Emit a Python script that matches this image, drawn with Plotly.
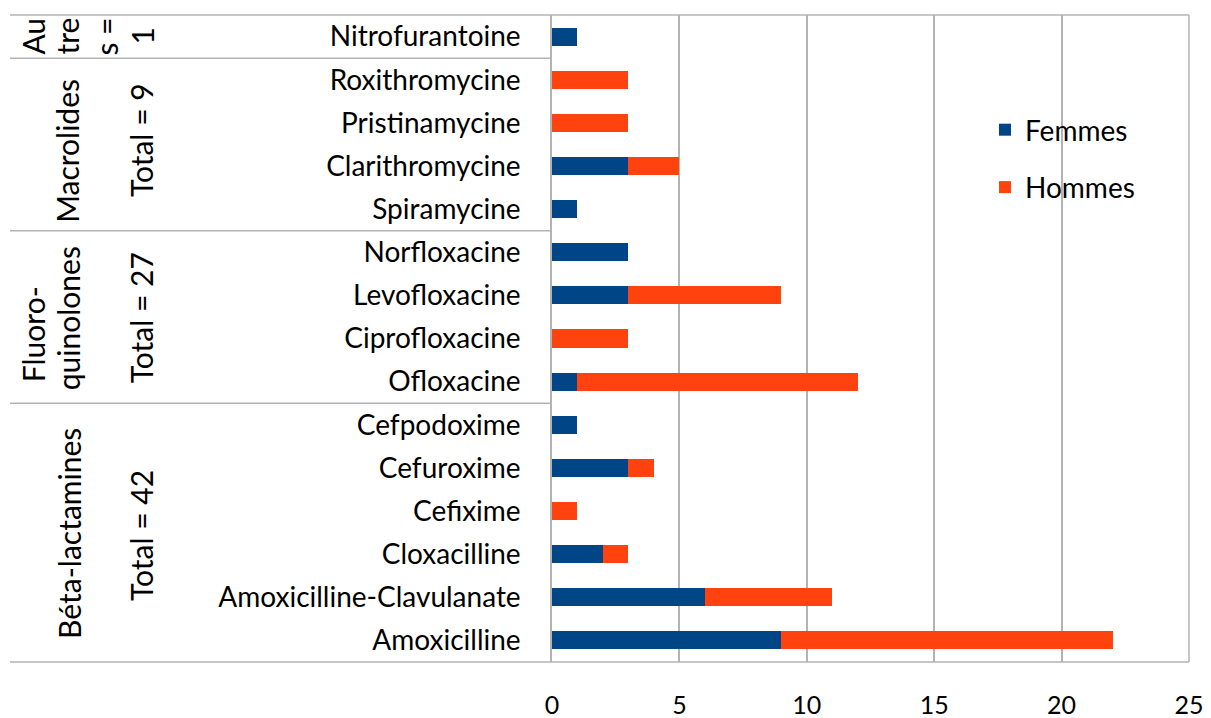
import plotly.graph_objects as go

# Data (bottom to top)
drugs = ["Amoxicilline", "Amoxicilline-Clavulanate", "Cloxacilline", "Cefixime",
         "Cefuroxime", "Cefpodoxime", "Ofloxacine", "Ciprofloxacine", "Levofloxacine",
         "Norfloxacine", "Spiramycine", "Clarithromycine", "Pristinamycine",
         "Roxithromycine", "Nitrofurantoine"]
femmes = [9, 6, 2, 0, 3, 1, 1, 0, 3, 3, 1, 3, 0, 0, 1]
hommes = [13, 5, 1, 1, 1, 0, 11, 3, 6, 0, 0, 2, 3, 3, 0]
x_ticks = [0, 5, 10, 15, 20, 25]

# Group labels: (text, pixel column, data y)
group_labels = [
    ("Au", 33, 14), ("tre", 67, 14), ("s =", 106, 14), ("1", 142, 14),
    ("Macrolides", 67, 11.35), ("Total = 9", 141, 11.6),
    ("Fluoro-", 33, 7.1), ("quinolones", 68, 7.47), ("Total = 27", 141, 7.47),
    ("Béta-lactamines", 69, 2.47), ("Total = 42", 141, 2.42),
]
separators = [5.5, 9.5, 13.5]

FONT = "Lato"
FS = 28
GFS = 30
OFF = 8  # page body margin
L, T = 552 - OFF, 15 - OFF
W, H = 1211 - OFF, 718 - OFF
PW, PH = 637, 647
R = W - L - PW
B = H - T - PH

def px2paper(px):
    return (px - OFF - L) / PW

fig = go.Figure()
fig.add_trace(go.Bar(y=drugs, x=femmes, name="Femmes", orientation="h",
                     marker=dict(color="#004586", line=dict(width=0)),
                     width=0.42, legendgroup="f"))
fig.add_trace(go.Bar(y=drugs, x=hommes, name="Hommes", orientation="h",
                     marker=dict(color="#ff420e", line=dict(width=0)),
                     width=0.42, legendgroup="h"))

grid = "#b3b3b3"
fig.update_layout(
    width=W, height=H,
    margin=dict(l=L, r=R, t=T, b=B, autoexpand=False),
    barmode="stack",
    plot_bgcolor="white", paper_bgcolor="white",
    font=dict(family=FONT, size=FS, color="black"),
    legend=dict(x=px2paper(985), y=1 - (105 - 15) / PH, xanchor="left",
                yanchor="top", traceorder="grouped", tracegroupgap=18,
                font=dict(size=FS), bgcolor="rgba(0,0,0,0)"),
    xaxis=dict(range=[0, 25], tickvals=x_ticks, showgrid=True, gridcolor=grid,
               gridwidth=1.5, zeroline=False, showline=False, automargin=False,
               tickfont=dict(size=25), ticklabelstandoff=26, fixedrange=True),
    yaxis=dict(categoryorder="array", categoryarray=drugs, range=[-0.5, 14.5],
               showgrid=False, zeroline=False, showline=True, linecolor=grid,
               linewidth=1.5, ticks="", ticklabelstandoff=24, automargin=False,
               tickfont=dict(size=FS)),
)

# Borders: top and bottom extend to the far left, right border
shape_line = dict(color=grid, width=1.5)
fig.add_shape(type="line", xref="paper", yref="paper", x0=px2paper(10), x1=1,
              y0=1, y1=1, line=shape_line)
fig.add_shape(type="line", xref="paper", yref="paper", x0=px2paper(10), x1=1,
              y0=0, y1=0, line=shape_line)
fig.add_shape(type="line", xref="paper", yref="paper", x0=1, x1=1,
              y0=0, y1=1, line=shape_line)
for s in separators:
    fig.add_shape(type="line", xref="paper", yref="y", x0=px2paper(10), x1=0,
                  y0=s, y1=s, line=shape_line)

for text, px, yv in group_labels:
    fig.add_annotation(text=text, xref="paper", yref="y", x=px2paper(px), y=yv,
                       textangle=-90, showarrow=False, xanchor="center",
                       yanchor="middle", font=dict(size=GFS, family=FONT))

fig.write_html("out.html")
